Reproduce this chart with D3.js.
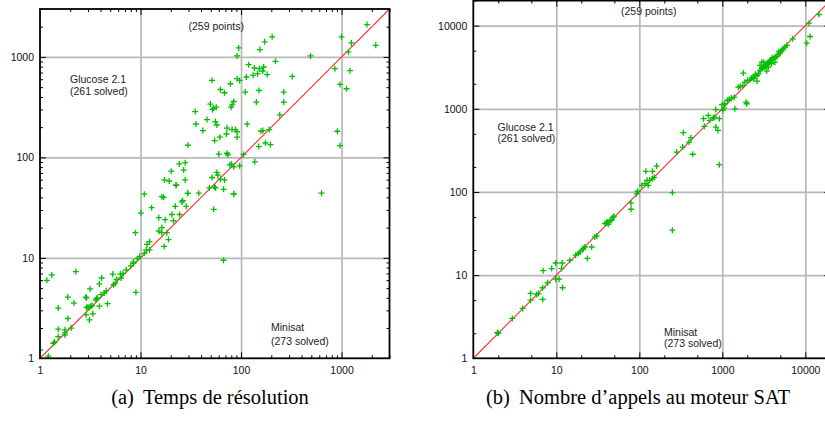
<!DOCTYPE html>
<html>
<head>
<meta charset="utf-8">
<script src="https://cdn.jsdelivr.net/npm/d3@7"></script>
<style>
  html, body { margin: 0; padding: 0; background: #fff; }
  svg { display: block; }
</style>
</head>
<body>
<svg id="chart" width="825" height="421"></svg>
<script>
// ---------- DATA ----------
// Panel (a): solving time, x = Minisat, y = Glucose 2.1
const timeMinisat = [1.0,1.21,1.17,1.31,2.27,1.52,1.52,1.52,1.36,1.4,1.77,1.77,1.77,1.89,1.89,2.04,2.18,2.86,2.9,3.15,2.9,3.0,3.1,3.2,3.3,2.87,3.1,3.35,3.6,3.65,3.7,3.9,3.9,4.1,4.05,4.35,4.55,4.7,5.3,5.4,5.6,5.8,6.3,6.4,6.7,7.2,7.05,8.0,8.5,8.5,8.9,9.0,9.3,9.8,10.1,10.9,10.9,11.4,11.6,12.3,12.3,12.9,15.2,15.2,16.3,16.3,17,17.6,17.2,18.3,19,20.5,21.3,22.2,22.7,24.5,25.8,26.3,29.4,38,
  35,35.6,29.6,24.3,27.8,20.2,26.9,17.3,19.3,22.5,27.8,16.3,29.6,
  1790,1000,1253,2190,1170,492,859,1213,964,1122,908,964,632,204,172,154,94.9,91.4,220,119,136,152,168,164,132,146,182,113,323,91.4,97,51.5,78.4,62.4,68.5,110,151,266,142,266,84.6,81.5,79.6,49.5,53.5,52,56.7,243,45.9,55.6,57.5,115,72.6,81.5,88,91.4,41.7,158,165,191,71.6,61.5,54.6,91.4,150,175,196,60,72.6,74,106,97,137,77.4,80.4,84.6,57.5,58.8,51.5,62.4,68.5,48.4,54.4,67.1,84.6,
  55.7,84.6,28.5,53.5,67];
const timeGlucose = [1.21,1.05,5.97,6.76,7.3,3.16,1.95,1.64,1.41,1.45,1.92,1.79,1.71,4.07,2.49,2.0,3.55,4.07,4.0,4.9,3.2,3.25,3.2,3.3,3.35,2.71,2.41,2.77,3.8,3.9,4.0,3.3,5.5,6.3,4.3,4.47,4.7,3.5,6.9,5.4,5.6,6.1,6.9,6.3,7.0,7.6,1.0,8.3,8.8,9.1,17.8,4.53,9.8,10.3,27.9,11.1,43,12,13.6,14.5,12,31.6,25.1,18.5,20,17.8,40,24,13,17.8,15.2,27,23.4,32.6,52.8,27,36,37,43.9,44,
  286,215,132,86,88.6,72.9,74.8,59.6,58.2,52.8,59.6,40.6,43.9,
  2100,1585,1380,1306,1122,1023,764,729,532,482,182,131,44,1585,1413,1183,1230,1023,905,838,776,764,794,724,656,682,667,631,640,607,583,583,541,474,440,447,463,447,355,355,360,333,316,339,310,300,316,265,238,227,210,214,196,189,189,180,185,182,185,189,171,159,147,159,128,139,134,108,110,106,107,82.4,90.4,84.3,85.6,80.5,70.8,66.5,63.1,60.7,59.7,49.8,50.6,48.1,43.5,
  49.8,43,32.6,30.4,9.46];

// Panel (b): number of SAT-solver calls, x = Minisat, y = Glucose 2.1
const callsMinisat = [1.95,2.0,2.95,3.94,4.9,4.9,5.8,6.1,6.86,6.86,6.95,7.87,8.8,9.85,9.85,10.8,11.6,11.8,11.9,14.6,17.1,18.4,19.3,20.8,22.1,21.2,23.7,26.7,29.2,30.7,38.6,40.4,42.2,41,44.4,49.4,48.6,46.5,79.5,79.5,93,95.6,250,250,107,117,124,133,144,151,162,120,144,128,440,282,339,397,419,333,607,677,594,711,779,811,920,835,886,920,835,1010,1050,990,1070,1150,1210,1290,1390,1420,1970,1940,1560,1640,1770,1790,1870,2010,2160,2260,2360,2620,2620,2720,2850,2990,3120,3270,3430,3580,3760,3900,4110,4310,4530,4730,4960,5200,5430,5690,7050,3430,3580,3900,4310,3160,2990,2850,11100,14600,11400,10400,3000,3300,3700,4000,2500,2400,4800,5000,6000];
const callsGlucose = [2.03,2.0,3.02,3.98,6.03,5.0,5.87,6.0,7.05,5.1,11.3,8.1,12,14,8.95,8.95,12,14,7.05,15.1,17.4,18.2,19,20.3,21.8,20.9,15.9,21.8,28.8,29.6,41.7,42.4,40.9,43.5,45.7,51.1,50,45.7,73.8,62,95,102,98.4,34.7,120,126,138,138,144,150,205,177,177,120,284,302,516,398,450,347,615,832,760,727,781,794,760,603,550,213,980,957,1020,1120,1150,1260,1300,1350,1380,1000,1150,1200,1820,1850,1900,2690,2090,2190,2230,2350,2400,2500,2150,2640,2890,3030,3170,3320,3480,3640,3810,3890,3990,4180,4240,4500,4670,5020,5260,5510,6940,2840,3170,3480,3640,3640,3640,3320,10700,13600,7400,6150,3100,3200,3600,4100,2600,2300,4900,4800,5800];

const ticksA = [1, 10, 100, 1000];
const ticksB = [1, 10, 100, 1000, 10000];
const minorA = [2, 3, 4, 5, 6, 7, 8, 9];
const minorB = [2, 5];
const captionA = ["(a)", "Temps de résolution"];
const captionB = ["(b)", "Nombre d’appels au moteur SAT"];
const labelPoints = "(259 points)";
const labelGlucose = ["Glucose 2.1", "(261 solved)"];
const labelMinisat = ["Minisat", "(273 solved)"];

// ---------- LAYOUT ----------
const svg = d3.select("#chart");

const panels = [
  { xs: timeMinisat, ys: timeGlucose, max: 3000, ticks: ticksA, minor: minorA,
    left: 40, right: 389.5, top: 9, bottom: 358.3,
    pts: [188.5, 29.5], glu: [70, 83, 95], mini: [271, 330.5, 344.5],
    caption: captionA, capX: 210 },
  { xs: callsMinisat, ys: callsGlucose, max: 20000, ticks: ticksB, minor: minorB,
    left: 473.3, right: 830.3, top: 0.6, bottom: 358.3,
    pts: [621, 14.5], glu: [497.5, 130.5, 141.5], mini: [664, 336, 347],
    caption: captionB, capX: 638 }
];

const sans = "'Liberation Sans', Arial, Helvetica, sans-serif";
const serif = "'Liberation Serif', 'Times New Roman', serif";
const fs = 10.5;

function minorValues(max, mult) {
  const out = [];
  for (let d = 1; d <= max; d *= 10) for (const m of mult) { const v = d * m; if (v <= max) out.push(v); }
  return out;
}

let clipId = 0;
panels.forEach(p => {
  const x = d3.scaleLog().domain([1, p.max]).range([p.left, p.right]);
  const y = d3.scaleLog().domain([1, p.max]).range([p.bottom, p.top]);
  const W = p.right - p.left, H = p.bottom - p.top;
  const g = svg.append("g");
  const minors = minorValues(p.max, p.minor);
  const gridVals = p.ticks.filter(v => v > 1);

  const cid = "clip" + (clipId++);
  svg.append("clipPath").attr("id", cid).append("rect")
    .attr("x", p.left).attr("y", p.top).attr("width", W).attr("height", H);

  // gridlines
  const grid = g.append("g");
  grid.append("g").attr("transform", `translate(0,${p.bottom})`)
    .call(d3.axisBottom(x).tickValues(gridVals).tickSize(-H).tickFormat(""));
  grid.append("g").attr("transform", `translate(${p.left},0)`)
    .call(d3.axisLeft(y).tickValues(gridVals).tickSize(-W).tickFormat(""));
  grid.selectAll("path.domain").remove();
  grid.selectAll("line").attr("stroke", "#b8b8b8").attr("stroke-width", 1.7);

  // minor & major ticks on four sides (inward)
  const tk = g.append("g");
  const sides = [
    [() => d3.axisBottom(x), `translate(0,${p.bottom})`],
    [() => d3.axisTop(x), `translate(0,${p.top})`],
    [() => d3.axisLeft(y), `translate(${p.left},0)`],
    [() => d3.axisRight(y), `translate(${p.right},0)`]
  ];
  const majors = p.ticks.filter(v => v > 1 && v < p.max);
  sides.forEach(([mk, tr]) => {
    tk.append("g").attr("transform", tr)
      .call(mk().tickValues(minors).tickSize(-3).tickFormat(""));
    tk.append("g").attr("transform", tr)
      .call(mk().tickValues(majors).tickSize(-6).tickFormat(""));
  });
  tk.selectAll("path.domain").remove();
  tk.selectAll("line").attr("stroke", "#000").attr("stroke-width", 1);

  // tick labels
  const lab = g.append("g");
  lab.append("g").attr("transform", `translate(0,${p.bottom})`)
    .call(d3.axisBottom(x).tickValues(p.ticks).tickSize(0).tickPadding(8).tickFormat(d3.format("d")));
  lab.append("g").attr("transform", `translate(${p.left},0)`)
    .call(d3.axisLeft(y).tickValues(p.ticks).tickSize(0).tickPadding(6).tickFormat(d3.format("d")));
  lab.selectAll("path.domain").remove();
  lab.selectAll("text").attr("font-family", sans).attr("font-size", fs).attr("fill", "#111");

  // diagonal
  g.append("line").attr("clip-path", `url(#${cid})`)
    .attr("x1", x(1)).attr("y1", y(1)).attr("x2", x(p.max)).attr("y2", y(p.max))
    .attr("stroke", "#ff2a2a").attr("stroke-width", 1.1);

  // points
  const data = p.xs.map((v, i) => [v, p.ys[i]]);
  g.append("g").attr("clip-path", `url(#${cid})`).selectAll("path").data(data).join("path")
    .attr("transform", d => `translate(${x(d[0])},${y(d[1])})`)
    .attr("d", "M-3,0H3M0,-3V3")
    .attr("stroke", "#00c000").attr("stroke-width", 1.3).attr("fill", "none");

  // frame
  g.append("rect").attr("x", p.left).attr("y", p.top).attr("width", W).attr("height", H)
    .attr("fill", "none").attr("stroke", "#000").attr("stroke-width", 1.8);

  // annotations
  const ann = (txt, xx, yy) => g.append("text").attr("x", xx).attr("y", yy).text(txt)
    .attr("font-family", sans).attr("font-size", fs).attr("fill", "#222");
  ann(labelPoints, p.pts[0], p.pts[1]);
  ann(labelGlucose[0], p.glu[0], p.glu[1]);
  ann(labelGlucose[1], p.glu[0], p.glu[2]);
  ann(labelMinisat[0], p.mini[0], p.mini[1]);
  ann(labelMinisat[1], p.mini[0], p.mini[2]);

  // caption
  const cap = svg.append("text").attr("x", p.capX).attr("y", 404).attr("text-anchor", "middle")
    .attr("font-family", serif).attr("font-size", 20.5).attr("fill", "#000");
  cap.append("tspan").text(p.caption[0]);
  cap.append("tspan").attr("dx", 9).text(p.caption[1]);
});
</script>
</body>
</html>
